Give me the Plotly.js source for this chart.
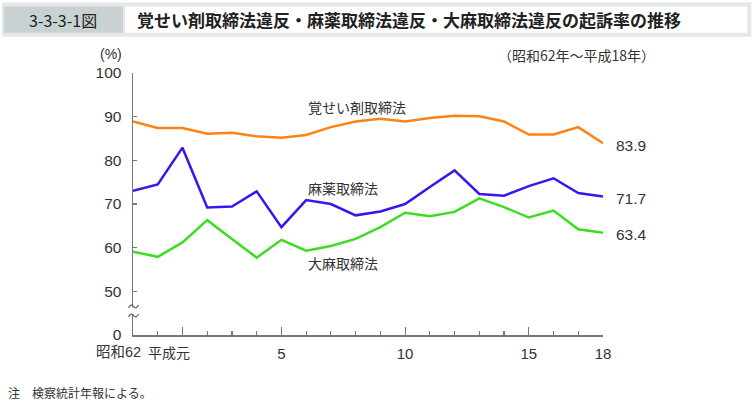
<!DOCTYPE html>
<html>
<head>
<meta charset="utf-8">
<script src="https://cdn.plot.ly/plotly-3.0.1.min.js"></script>
<style>
  html, body { margin: 0; padding: 0; background: #fff; }
  #chart { width: 754px; height: 408px; }
</style>
</head>
<body>
<div id="chart"></div>
<script>
// ---- data ----
const years = ['昭和62','昭和63','平成元','平成2','平成3','平成4','平成5','平成6','平成7','平成8',
               '平成9','平成10','平成11','平成12','平成13','平成14','平成15','平成16','平成17','平成18'];
const stimulants = [88.9, 87.4, 87.4, 86.1, 86.3, 85.5, 85.2, 85.8, 87.6, 88.9,
                    89.5, 88.9, 89.7, 90.2, 90.1, 88.9, 85.9, 85.9, 87.6, 83.9];
const narcotics  = [73.0, 74.5, 82.9, 69.2, 69.4, 72.9, 64.7, 70.9, 70.0, 67.4,
                    68.3, 70.0, 73.9, 77.7, 72.3, 71.9, 74.1, 75.9, 72.5, 71.7];
const cannabis   = [59.1, 57.9, 61.2, 66.3, 62.0, 57.7, 61.8, 59.3, 60.4, 62.0,
                    64.7, 68.0, 67.2, 68.2, 71.3, 69.3, 66.9, 68.5, 64.2, 63.4];
const seriesNames = ['覚せい剤取締法', '麻薬取締法', '大麻取締法'];
const xTickYears = ['平成元','平成5','平成10','平成15','平成18'];
const xTickText  = ['', '5', '10', '15', '18'];
const yTickVals  = [40, 50, 60, 70, 80, 90, 100];
const yTickText  = ['0', '50', '60', '70', '80', '90', '100'];

// ---- helpers (pixel -> paper) ----
const L = 133, R = 602.7, T = 73.3, B = 335;
const px = p => (p - L) / (R - L);
const py = p => (B - p) / (B - T);

const xs = years.map((_, i) => i);
const colors = ['#ff8214', '#3c14ee', '#3ddc22'];
const sans = 'Liberation Sans, Arial, Noto Sans CJK JP, sans-serif';
const jp = 'Noto Sans CJK JP, sans-serif';

const traces = [stimulants, narcotics, cannabis].map((v, k) => ({
  x: xs, y: v, type: 'scatter', mode: 'lines', name: seriesNames[k],
  line: { color: colors[k], width: 2.5 }, hoverinfo: 'skip'
}));

const txt = '#333';
const annotations = [
  // header
  { xref:'paper', yref:'paper', x: px(63), y: py(20), text: '3-3-3-1図', showarrow:false,
    xanchor:'center', yanchor:'middle', font:{family: jp, size:16, color:'#222'} },
  { xref:'paper', yref:'paper', x: px(135), y: py(20), text: '<b>覚せい剤取締法違反・麻薬取締法違反・大麻取締法違反の起訴率の推移</b>',
    showarrow:false, xanchor:'left', yanchor:'middle', font:{family: jp, size:17, color:'#222'} },
  // units
  { xref:'paper', yref:'paper', x: px(111), y: py(54), text: '(%)', showarrow:false,
    xanchor:'center', yanchor:'middle', font:{family: sans, size:14, color:txt} },
  { xref:'paper', yref:'paper', x: px(657), y: py(55), text: '（昭和62年～平成18年）', showarrow:false,
    xanchor:'right', yanchor:'middle', font:{family: jp, size:14, color:txt} },
  // series labels
  { xref:'paper', yref:'paper', x: px(306), y: py(107), text: seriesNames[0], showarrow:false,
    xanchor:'left', yanchor:'middle', font:{family: jp, size:14, color:txt} },
  { xref:'paper', yref:'paper', x: px(306), y: py(188), text: seriesNames[1], showarrow:false,
    xanchor:'left', yanchor:'middle', font:{family: jp, size:14, color:txt} },
  { xref:'paper', yref:'paper', x: px(306), y: py(263), text: seriesNames[2], showarrow:false,
    xanchor:'left', yanchor:'middle', font:{family: jp, size:14, color:txt} },
  // x tick labels for 昭和62 / 平成元
  { xref:'paper', yref:'paper', x: px(119), y: py(352), text: years[0], showarrow:false,
    xanchor:'center', yanchor:'middle', font:{family: sans, size:14.5, color:txt} },
  { xref:'paper', yref:'paper', x: px(169), y: py(352), text: years[2], showarrow:false,
    xanchor:'center', yanchor:'middle', font:{family: jp, size:14, color:txt} },
  // footnote
  { xref:'paper', yref:'paper', x: px(6), y: py(392), text: '注　検察統計年報による。', showarrow:false,
    xanchor:'left', yanchor:'middle', font:{family: jp, size:12, color:txt} }
];
// end-value labels
[stimulants, narcotics, cannabis].forEach((v, k) => {
  const last = v[v.length - 1];
  annotations.push({ xref:'x', yref:'y', x: xs[xs.length - 1], y: last, text: last.toFixed(1),
    showarrow:false, xanchor:'left', yanchor:'middle', xshift: 11, yshift: -2,
    font:{family: sans, size:15.5, color:txt} });
});

// tilde path helper (axis break marks)
function tilde(cx, cy) {
  const pts = [[cx-5, cy+1.5], [cx-2.5, cy-3.5], [cx, cy], [cx+2.5, cy+3.5], [cx+5, cy-1.5]];
  const f = p => px(p[0]).toFixed(5) + ',' + py(p[1]).toFixed(5);
  return `M${f(pts[0])} Q${f(pts[1])} ${f(pts[2])} T${f(pts[4])}`;
}

const shapes = [
  { type:'rect', xref:'paper', yref:'paper', x0: px(2), x1: px(751), y0: py(3), y1: py(37),
    fillcolor:'#e4e8e8', line:{width:0}, layer:'below' },
  { type:'rect', xref:'paper', yref:'paper', x0: px(4), x1: px(123), y0: py(7), y1: py(33),
    fillcolor:'#c8d2d2', line:{width:0}, layer:'below' },
  { type:'rect', xref:'paper', yref:'paper', x0: px(125), x1: px(747), y0: py(7), y1: py(33),
    fillcolor:'#ffffff', line:{width:0}, layer:'below' },
  // break gap
  { type:'rect', xref:'paper', yref:'paper', x0: px(131), x1: px(135.5), y0: py(307.5), y1: py(314.5),
    fillcolor:'#ffffff', line:{width:0}, layer:'above' },
  { type:'path', xref:'paper', yref:'paper', path: tilde(133.5, 306.5), line:{color:'#666', width:1.3}, layer:'above' },
  { type:'path', xref:'paper', yref:'paper', path: tilde(133.5, 315.5), line:{color:'#666', width:1.3}, layer:'above' }
];

const layout = {
  width: 754, height: 408,
  margin: { l: L, r: 754 - R, t: T, b: 408 - B, pad: 0 },
  paper_bgcolor: '#fff', plot_bgcolor: '#fff',
  showlegend: false,
  font: { family: sans, size: 15, color: txt },
  xaxis: {
    range: [0, 19], showgrid: false, zeroline: false,
    showline: true, linecolor: '#777', linewidth: 1.5,
    tickmode: 'array', tickvals: xTickYears.map(y => years.indexOf(y)), ticktext: xTickText,
    ticks: 'inside', ticklen: 8, tickcolor: '#777', tickwidth: 1.2,
    minor: { ticks: 'inside', ticklen: 4.5, tickcolor: '#777', tickwidth: 1.2, tickmode: 'linear', tick0: 0, dtick: 1 },
    tickfont: { family: sans, size: 15, color: txt }, ticklabelstandoff: 4
  },
  yaxis: {
    range: [40, 100], showgrid: false, zeroline: false,
    showline: true, linecolor: '#777', linewidth: 1.5,
    tickmode: 'array', tickvals: yTickVals, ticktext: yTickText,
    ticks: 'inside', ticklen: 4, tickcolor: '#777', tickwidth: 1.2,
    tickfont: { family: sans, size: 15.5, color: txt }, ticklabelstandoff: 7
  },
  annotations, shapes
};

Plotly.newPlot('chart', traces, layout, { staticPlot: true, displayModeBar: false });
</script>
</body>
</html>
